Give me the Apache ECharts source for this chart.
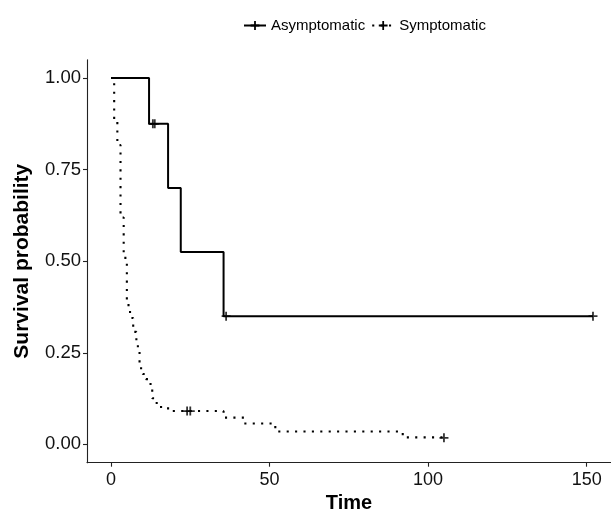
<!DOCTYPE html>
<html>
<head>
<meta charset="utf-8">
<script src="https://cdn.jsdelivr.net/npm/echarts@6/dist/echarts.min.js"></script>
<style>
  html, body { margin: 0; padding: 0; background: #fff; }
  #chart { width: 611px; height: 512px; }
</style>
</head>
<body>
<div id="chart"></div>
<script>
// Kaplan-Meier steps
const asymTime = [0, 12, 18, 22, 35.5, 152];
const asymSurv = [1.0, 0.875, 0.7, 0.525, 0.35, 0.35];
const asymCensorTime = [13.2, 13.8, 36.3, 152];
const asymCensorSurv = [0.875, 0.875, 0.35, 0.35];

const symTime = [0, 1, 2, 3, 4, 5, 6, 7, 8, 9, 10, 11, 12, 13, 14, 15, 18, 35.5, 42, 51, 52.5, 92, 105];
const symSurv = [1.0, 0.885, 0.817, 0.619, 0.509, 0.380, 0.345, 0.307, 0.268, 0.208, 0.192, 0.178,
  0.165, 0.126, 0.113, 0.102, 0.091, 0.073, 0.057, 0.047, 0.035, 0.019, 0.019];
const symCensorTime = [24, 25, 105];
const symCensorSurv = [0.091, 0.091, 0.018];

const xTicks = [0, 50, 100, 150];
const yTicks = [0, 0.25, 0.5, 0.75, 1];

const FONT = '"Liberation Sans", Arial, sans-serif';
const PLUS = 'path://M4,0h2v4h4v2h-4v4h-2v-4h-4v-2h4z';

const pairs = (xs, ys) => xs.map((x, i) => [x, ys[i]]);

const chart = echarts.init(document.getElementById('chart'));

chart.setOption({
  animation: false,
  backgroundColor: '#fff',
  legend: {
    data: ['Asymptomatic', 'Symptomatic'],
    left: 238,
    top: 13,
    itemWidth: 22,
    itemHeight: 11,
    itemGap: 6,
    textStyle: { fontFamily: FONT, fontSize: 15, color: '#000' },
  },
  grid: { left: 87, right: 0, top: 59.7, bottom: 49.3, containLabel: false, outerBoundsMode: 'none' },
  xAxis: {
    type: 'value',
    min: -7.57,
    max: 157.68,
    name: 'Time',
    nameLocation: 'middle',
    nameGap: 28,
    nameTextStyle: { fontFamily: FONT, fontSize: 20, fontWeight: 'bold', color: '#000' },
    splitLine: { show: false },
    axisLine: { onZero: false, lineStyle: { color: '#222', width: 1.1 } },
    axisTick: { customValues: xTicks, length: 4, lineStyle: { color: '#222', width: 1.1 } },
    axisLabel: { customValues: xTicks, margin: 8, fontFamily: FONT, fontSize: 18, color: '#111' },
  },
  yAxis: {
    type: 'value',
    min: -0.05,
    max: 1.05,
    name: 'Survival probability',
    nameLocation: 'middle',
    nameGap: 54,
    nameTextStyle: { fontFamily: FONT, fontSize: 21, fontWeight: 'bold', color: '#000' },
    splitLine: { show: false },
    axisLine: { show: true, onZero: false, lineStyle: { color: '#222', width: 1.1 } },
    axisTick: { show: true, customValues: yTicks, length: 4, lineStyle: { color: '#222', width: 1.1 } },
    axisLabel: {
      customValues: yTicks,
      margin: 6,
      fontFamily: FONT,
      fontSize: 18.5,
      color: '#111',
      formatter: v => v.toFixed(2),
    },
  },
  series: [
    {
      name: 'Asymptomatic',
      type: 'line',
      step: 'end',
      data: pairs(asymTime, asymSurv),
      symbol: PLUS,
      showSymbol: false,
      color: '#000',
      lineStyle: { color: '#000', width: 2 },
    },
    {
      name: 'Symptomatic',
      type: 'line',
      step: 'end',
      data: pairs(symTime, symSurv),
      symbol: PLUS,
      showSymbol: false,
      color: '#000',
      lineStyle: { color: '#000', width: 2.1, type: [2.1, 6.3], cap: 'butt' },
    },
    {
      name: 'Asymptomatic',
      type: 'scatter',
      data: pairs(asymCensorTime, asymCensorSurv),
      symbol: PLUS,
      symbolSize: 9,
      itemStyle: { color: '#000' },
      z: 5,
    },
    {
      name: 'Symptomatic',
      type: 'scatter',
      data: pairs(symCensorTime, symCensorSurv),
      symbol: PLUS,
      symbolSize: 9,
      itemStyle: { color: '#000' },
      z: 5,
    },
  ],
});
</script>
</body>
</html>
